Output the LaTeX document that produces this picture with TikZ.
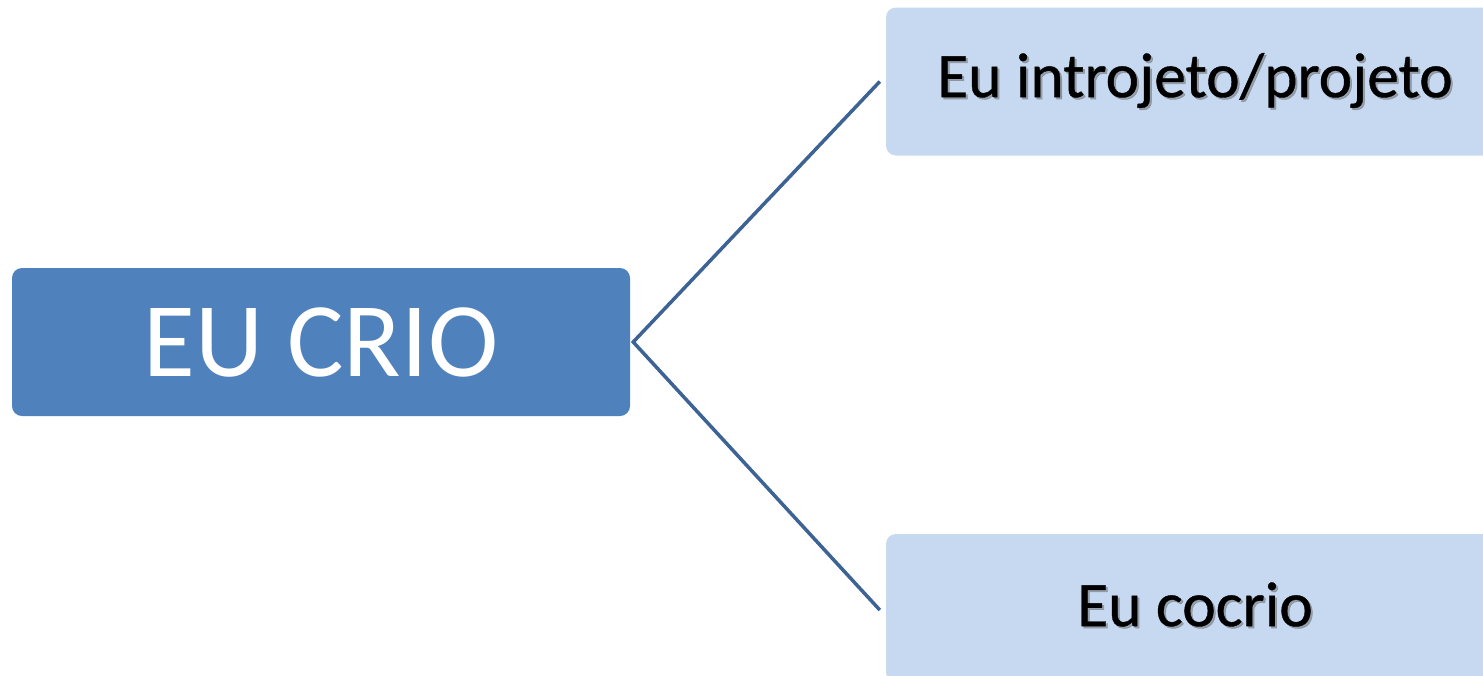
\documentclass[tikz,border=0pt]{standalone}
\usepackage{fontspec}
\setmainfont{Carlito}
\newfontfamily\subfont[FakeBold=0.6]{Carlito}
\definecolor{darkbox}{HTML}{4F81BD}
\definecolor{lightbox}{HTML}{C6D9F1}
\definecolor{linkcol}{HTML}{3D6394}
\tikzset{
  mainbox/.style={fill=darkbox, rounded corners=10pt, minimum width=618pt, minimum height=148pt, inner sep=0pt, text=white, font=\fontsize{106}{110}\selectfont},
  subbox/.style={fill=lightbox, rounded corners=10pt, minimum width=618pt, minimum height=148pt, inner sep=0pt},
  subtext/.style={font=\subfont\fontsize{63.5}{66}\selectfont, text=black, inner sep=0pt},
  shadowtext/.style={font=\subfont\fontsize{63.5}{66}\selectfont, text=black!60, opacity=0.5, inner sep=0pt},
  link/.style={draw=linkcol, line width=3.5pt}
}
\begin{document}
\begin{tikzpicture}[x=1pt,y=-1pt]
\path[use as bounding box] (0,0) rectangle (1483,675);
\clip (0,0) rectangle (1483,675);
\fill[white] (0,0) rectangle (1483,675);
\node[mainbox] (L) at (321,342) {EU CRIO};
\node[subbox] (T) at (1195,81.5) {};
\node[subbox] (B) at (1195,608) {};
\node[shadowtext] (Tsh) at (1197,82.5) {Eu introjeto/projeto};
\node[subtext] (Tt) at (1195,80.5) {Eu introjeto/projeto};
\node[shadowtext] (Bsh) at (1197,606.5) {Eu cocrio};
\node[subtext] (Bt) at (1195,604.5) {Eu cocrio};
\coordinate (v) at ([xshift=3pt]L.east);
\coordinate (te) at ([xshift=-6pt]T.west);
\coordinate (be) at ([xshift=-6pt,yshift=-2pt]B.west);
\draw[link] (te) -- (v) -- (be);
\end{tikzpicture}
\end{document}
